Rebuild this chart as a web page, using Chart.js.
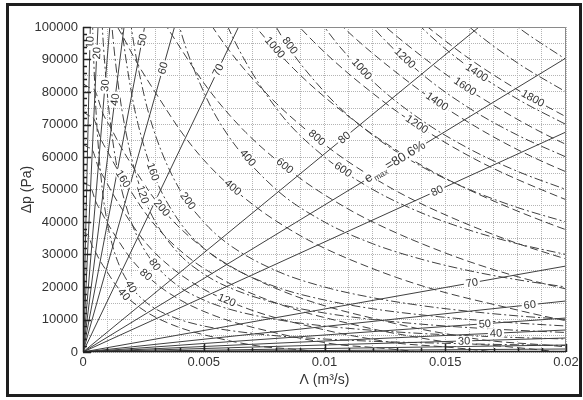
<!DOCTYPE html>
<html>
<head>
<meta charset="utf-8">
<script src="https://cdn.jsdelivr.net/npm/chart.js@4.4.1/dist/chart.umd.min.js"></script>
<style>
  html, body { margin: 0; padding: 0; background: #fff; }
  #wrap { position: relative; width: 583px; height: 400px; }
  #myChart { display: block; }
  #frame { position: absolute; left: 6px; top: 3px; width: 576px; height: 394px; box-sizing: border-box; border: 3px solid #1e1e1e; pointer-events: none; }
</style>
</head>
<body>
<div id="wrap">
  <canvas id="myChart" width="583" height="400"></canvas>
  <div id="frame"></div>
</div>
<script>
// efficiency contours (%), each one is two straight lines through the origin
const effLevels = [10, 20, 30, 40, 50, 60, 70, 80];
// steep branch: Λ where the line reaches Δp = 100000
const effSteepTopX = [0.000302, 0.000621, 0.00111, 0.0017, 0.00255, 0.00379, 0.00644, 0.0164];
// flat branch: Δp where the line reaches Λ = 0.02
const effFlatEndY = [920, 2150, 4310, 6770, 10460, 15700, 26460, 67700];
const effMax = 80.6;
const effMaxEndY = 90460;

// hydraulic power curves (W), [Λ, Δp]
const hydPower = [40, 80, 120, 160, 200, 400, 600, 800, 1000, 1200, 1400, 1600, 1800];
const hyd40 = [[0.0003,133300],[0.0004,100000],[0.0005,80000],[0.0006,66700],[0.0008,50000],[0.001,40000],[0.0012,33300],[0.0015,26700],[0.002,20000],[0.0025,16000],[0.003,13300],[0.004,10000],[0.005,8000],[0.006,6700],[0.008,5000],[0.01,4000],[0.012,3300],[0.014,2860],[0.016,2500],[0.018,2220],[0.02,2000]];
const hyd80 = [[0.0006,133300],[0.0008,100000],[0.001,80000],[0.0012,66700],[0.0015,53300],[0.002,40000],[0.0025,32000],[0.003,26700],[0.004,20000],[0.005,16000],[0.006,13300],[0.008,10000],[0.01,8000],[0.012,6670],[0.014,5710],[0.016,5000],[0.018,4440],[0.02,4000]];
const hyd120 = [[0.001,120000],[0.0012,100000],[0.0015,80000],[0.002,60000],[0.0025,48000],[0.003,40000],[0.004,30000],[0.005,24000],[0.006,20000],[0.008,15000],[0.01,12000],[0.012,10000],[0.014,8570],[0.016,7500],[0.018,6670],[0.02,6000]];
const hyd160 = [[0.0012,133300],[0.0015,106700],[0.002,80000],[0.0025,64000],[0.003,53300],[0.004,40000],[0.005,32000],[0.006,26700],[0.008,20000],[0.01,16000],[0.012,13300],[0.014,11430],[0.016,10000],[0.018,8890],[0.02,8000]];
const hyd200 = [[0.0015,133300],[0.002,100000],[0.0025,80000],[0.003,66700],[0.004,50000],[0.005,40000],[0.006,33300],[0.008,25000],[0.01,20000],[0.012,16700],[0.014,14290],[0.016,12500],[0.018,11110],[0.02,10000]];
const hyd400 = [[0.003,133300],[0.004,100000],[0.005,80000],[0.006,66700],[0.008,50000],[0.01,40000],[0.012,33300],[0.014,28570],[0.016,25000],[0.018,22220],[0.02,20000]];
const hyd600 = [[0.005,120000],[0.006,100000],[0.008,75000],[0.01,60000],[0.012,50000],[0.014,42860],[0.016,37500],[0.018,33300],[0.02,30000]];
const hyd800 = [[0.006,133300],[0.008,100000],[0.01,80000],[0.012,66700],[0.014,57140],[0.016,50000],[0.018,44440],[0.02,40000]];
const hyd1000 = [[0.008,125000],[0.01,100000],[0.012,83300],[0.014,71430],[0.016,62500],[0.018,55560],[0.02,50000]];
const hyd1200 = [[0.01,120000],[0.012,100000],[0.014,85710],[0.016,75000],[0.018,66700],[0.02,60000]];
const hyd1400 = [[0.012,116700],[0.014,100000],[0.016,87500],[0.018,77800],[0.02,70000]];
const hyd1600 = [[0.014,114300],[0.016,100000],[0.018,88900],[0.02,80000]];
const hyd1800 = [[0.016,112500],[0.018,100000],[0.02,90000]];
const hydCurves = [hyd40, hyd80, hyd120, hyd160, hyd200, hyd400, hyd600, hyd800, hyd1000, hyd1200, hyd1400, hyd1600, hyd1800];

// shaft power curves (W), [Λ, Δp]
const shaftPower = [40, 80, 120, 160, 200, 400, 600, 800, 1000, 1200, 1400, 1600, 1800];
const shaft40 = [[0,37000],[0.00011,36400],[0.000223,35900],[0.000365,32900],[0.000521,30700],[0.000713,28000],[0.000954,25200],[0.00134,20800],[0.00174,17400],[0.00229,14000],[0.00267,12100],[0.00308,10400],[0.0039,7800],[0.00461,6080],[0.00555,4330],[0.0062,3230],[0.00686,2330],[0.00747,1610],[0.00861,930],[0.00932,430],[0.0098,0]];
const shaft80 = [[0,52300],[0.000155,51500],[0.000315,50800],[0.000516,46500],[0.000737,43400],[0.00101,39700],[0.00135,35600],[0.0019,29500],[0.00247,24700],[0.00324,19800],[0.00378,17100],[0.00435,14700],[0.00551,11000],[0.00651,8600],[0.00785,6120],[0.00877,4560],[0.0097,3300],[0.01056,2270],[0.01217,1310],[0.01318,606],[0.0139,0]];
const shaft120 = [[0,64000],[0.00019,63000],[0.000386,62200],[0.000633,56900],[0.000903,53200],[0.00124,48600],[0.00165,43600],[0.00233,36100],[0.00302,30200],[0.00397,24200],[0.00463,20900],[0.00533,18000],[0.00675,13500],[0.00798,10530],[0.00961,7490],[0.01074,5590],[0.01189,4040],[0.01294,2780],[0.01491,1610],[0.01615,743],[0.017,0]];
const shaft160 = [[0,73900],[0.00022,72800],[0.000446,71800],[0.00073,65700],[0.00104,61400],[0.00143,56100],[0.00191,50300],[0.00269,41700],[0.00349,34900],[0.00458,27900],[0.00534,24200],[0.00615,20800],[0.0078,15600],[0.00921,12160],[0.01109,8650],[0.0124,6450],[0.01372,4670],[0.01494,3210],[0.01722,1860],[0.01864,858],[0.0197,0]];
const shaft200 = [[0,82600],[0.000246,81400],[0.000499,80300],[0.000817,73500],[0.00117,68700],[0.0016,62700],[0.00213,56300],[0.00301,46600],[0.0039,39000],[0.00512,31200],[0.00597,27000],[0.00688,23300],[0.00872,17400],[0.0103,13600],[0.0124,9670],[0.01387,7210],[0.01534,5220],[0.0167,3590],[0.01925,2080],[0.02085,960]];
const shaft400 = [[0.000705,113500],[0.00116,103900],[0.00165,97100],[0.00226,88700],[0.00302,79600],[0.00425,65900],[0.00551,55100],[0.00724,44200],[0.00845,38200],[0.00973,32900],[0.01233,24700],[0.01456,19200],[0.01754,13700],[0.01961,10200],[0.0217,7380]];
const shaft600 = [[0.00141,127300],[0.00202,118900],[0.00276,108600],[0.00369,97500],[0.00521,80700],[0.00675,67500],[0.00887,54100],[0.01034,46800],[0.01192,40300],[0.0151,30200],[0.01784,23500],[0.02149,16750]];
const shaft800 = [[0.00319,125400],[0.00427,112600],[0.00601,93200],[0.0078,78000],[0.01024,62500],[0.01194,54000],[0.01376,46500],[0.01743,34900],[0.0206,27200]];
const shaft1000 = [[0.00477,125900],[0.00672,104200],[0.00872,87200],[0.01145,69900],[0.01335,60400],[0.01539,52000],[0.01949,39000],[0.02303,30400]];
const shaft1200 = [[0.00522,137900],[0.00736,114100],[0.00955,95500],[0.01254,76500],[0.01463,66100],[0.01685,57000],[0.02135,42700]];
const shaft1400 = [[0.00795,123300],[0.01032,103200],[0.01355,82700],[0.0158,71400],[0.0182,61500],[0.02306,46100]];
const shaft1600 = [[0.0085,131800],[0.01103,110300],[0.01448,88400],[0.01689,76400],[0.01946,65800],[0.02466,49300]];
const shaft1800 = [[0.00902,139800],[0.0117,117000],[0.01536,93700],[0.01792,81000],[0.02064,69800]];
const shaftCurves = [shaft40, shaft80, shaft120, shaft160, shaft200, shaft400, shaft600, shaft800, shaft1000, shaft1200, shaft1400, shaft1600, shaft1800];

// where the contour labels sit (Λ along each curve)
const effSteepLabelX = [0.000288, 0.000571, 0.00091, 0.00132, 0.00245, 0.00331, 0.00559, 0.01082];
const effFlatLabelX = [null, null, 0.01578, 0.0171, 0.01664, 0.0185, 0.0161, 0.01466];
const effMaxLabelX = 0.01292;
const hydLabelX = [0.00199, 0.00298, 0.00248, 0.0029, 0.00435, 0.00683, 0.01077, 0.00857, 0.01155, 0.01333, 0.01631, null, null];
const shaftLabelX = [0.0017, 0.00261, 0.00596, 0.00166, 0.00327, 0.00621, 0.00836, 0.00969, 0.00795, 0.01383, 0.01466, 0.01582, 0.01863];

const lineColor = '#404040';
const datasets = [];
const labelSpots = [];

function addCurve(points, dash, smooth, labelX, text) {
	datasets.push({
		data: points.map(p => ({x: p[0], y: p[1]})),
		showLine: true,
		borderColor: lineColor,
		borderWidth: 1,
		borderDash: dash,
		pointRadius: 0,
		tension: 0,
		cubicInterpolationMode: smooth ? 'monotone' : 'default'
	});
	if (labelX != null) labelSpots.push({ds: datasets.length - 1, x: labelX, text: text});
	return datasets.length - 1;
}

effLevels.forEach((e, i) => {
	addCurve([[0, 0], [effSteepTopX[i], 100000]], [], false, effSteepLabelX[i], String(e));
	addCurve([[0, 0], [0.02, effFlatEndY[i]]], [], false, effFlatLabelX[i], String(e));
});
const effMaxDs = addCurve([[0, 0], [0.02, effMaxEndY]], [], false, null, null);

hydCurves.forEach((c, i) => addCurve(c, [9, 3, 2, 3], true, hydLabelX[i], String(hydPower[i])));
shaftCurves.forEach((c, i) => addCurve(c, [8, 4], true, shaftLabelX[i], String(shaftPower[i])));

function spotOnCurve(chart, ds, xv) {
	const pts = chart.getDatasetMeta(ds).data;
	const px = chart.scales.x.getPixelForValue(xv);
	for (let i = 0; i < pts.length - 1; i++) {
		const a = pts[i], b = pts[i + 1];
		if (px >= a.x && px <= b.x) {
			const t = b.x === a.x ? 0 : (px - a.x) / (b.x - a.x);
			return {x: px, y: a.y + t * (b.y - a.y), angle: Math.atan2(b.y - a.y, b.x - a.x)};
		}
	}
	return null;
}

const contourLabels = {
	id: 'contourLabels',
	afterDatasetsDraw(chart) {
		const ctx = chart.ctx;
		ctx.save();
		ctx.font = '11px Arial, "Liberation Sans", sans-serif';
		ctx.textAlign = 'center';
		ctx.textBaseline = 'middle';
		labelSpots.forEach(s => {
			const p = spotOnCurve(chart, s.ds, s.x);
			if (!p) return;
			const w = ctx.measureText(s.text).width + 4;
			ctx.save();
			ctx.translate(p.x, p.y);
			ctx.rotate(p.angle);
			ctx.fillStyle = '#fff';
			ctx.fillRect(-w / 2, -5, w, 10);
			ctx.fillStyle = '#333';
			ctx.fillText(s.text, 0, 0.5);
			ctx.restore();
		});

		// e_max label along its own line
		const p = spotOnCurve(chart, effMaxDs, effMaxLabelX);
		if (p) {
			const big = '13px Arial, "Liberation Sans", sans-serif';
			const small = '8px Arial, "Liberation Sans", sans-serif';
			const tail = '=' + effMax + '%';
			ctx.font = big; const w1 = ctx.measureText('e').width; const w3 = ctx.measureText(tail).width;
			ctx.font = small; const w2 = ctx.measureText('max').width;
			const total = w1 + w2 + w3 + 2;
			ctx.translate(p.x, p.y);
			ctx.rotate(p.angle);
			ctx.fillStyle = '#fff';
			ctx.fillRect(-total / 2 - 2, -7, total + 4, 14);
			ctx.fillStyle = '#333';
			ctx.textAlign = 'left';
			let x0 = -total / 2;
			ctx.font = big; ctx.fillText('e', x0, 0); x0 += w1 + 1;
			ctx.font = small; ctx.fillText('max', x0, 4); x0 += w2 + 1;
			ctx.font = big; ctx.fillText(tail, x0, 0);
		}
		ctx.restore();
	}
};

const plotFrame = {
	id: 'plotFrame',
	afterDraw(chart) {
		const {ctx, chartArea: a, scales} = chart;
		ctx.save();
		ctx.strokeStyle = '#8a8a8a';
		ctx.lineWidth = 1;
		ctx.beginPath();
		ctx.moveTo(a.left, a.top + 0.5); ctx.lineTo(a.right - 0.5, a.top + 0.5); ctx.lineTo(a.right - 0.5, a.bottom);
		ctx.stroke();
		ctx.strokeStyle = '#222';
		ctx.lineWidth = 1.5;
		ctx.beginPath();
		ctx.moveTo(a.left + 0.5, a.top); ctx.lineTo(a.left + 0.5, a.bottom - 0.5); ctx.lineTo(a.right, a.bottom - 0.5);
		// inward ticks
		for (let i = 0; i <= 50; i++) {
			const y = Math.round(scales.y.getPixelForValue(i * 2000)) + 0.5;
			const len = i % 5 === 0 ? 8 : 4;
			ctx.moveTo(a.left, y); ctx.lineTo(a.left + len, y);
		}
		for (let i = 0; i <= 20; i++) {
			const x = Math.round(scales.x.getPixelForValue(i * 0.001)) + 0.5;
			const len = i % 5 === 0 ? 8 : 4;
			ctx.moveTo(x, a.bottom); ctx.lineTo(x, a.bottom - len);
		}
		ctx.stroke();
		ctx.restore();
	}
};

Chart.defaults.font.family = 'Arial, "Liberation Sans", sans-serif';
Chart.defaults.color = '#333';

const ctx = document.getElementById('myChart');
new Chart(ctx, {
	type: 'scatter',
	data: { datasets: datasets },
	options: {
		responsive: false,
		animation: false,
		layout: { padding: { left: 0, top: 27, right: 17, bottom: 0 } },
		plugins: { legend: { display: false }, tooltip: { enabled: false } },
		scales: {
			x: {
				type: 'linear', min: 0, max: 0.02,
				afterFit: s => { s.height = 48; },
				grid: { color: '#b4b4b4', drawTicks: false },
				border: { display: false, dash: [1, 1] },
				ticks: {
					stepSize: 0.001, autoSkip: false, maxRotation: 0, padding: 3,
					font: { size: 13 },
					callback: v => { const k = Math.round(v * 1000); return k % 5 === 0 ? String(k / 1000) : ''; }
				},
				title: { display: true, text: 'Λ (m³/s)', font: { size: 14 }, padding: { top: 0, bottom: 11 } }
			},
			y: {
				min: 0, max: 100000,
				afterFit: s => { s.width = 83; },
				grid: { color: '#b4b4b4', drawTicks: false },
				border: { display: false, dash: [1, 1] },
				ticks: {
					stepSize: 5000, autoSkip: false, padding: 5,
					font: { size: 13 },
					callback: v => Math.round(v) % 10000 === 0 ? String(Math.round(v)) : ''
				},
				title: { display: true, text: 'Δp (Pa)', font: { size: 14 }, padding: { top: 19, bottom: 0 } }
			}
		}
	},
	plugins: [contourLabels, plotFrame]
});
</script>
</body>
</html>
